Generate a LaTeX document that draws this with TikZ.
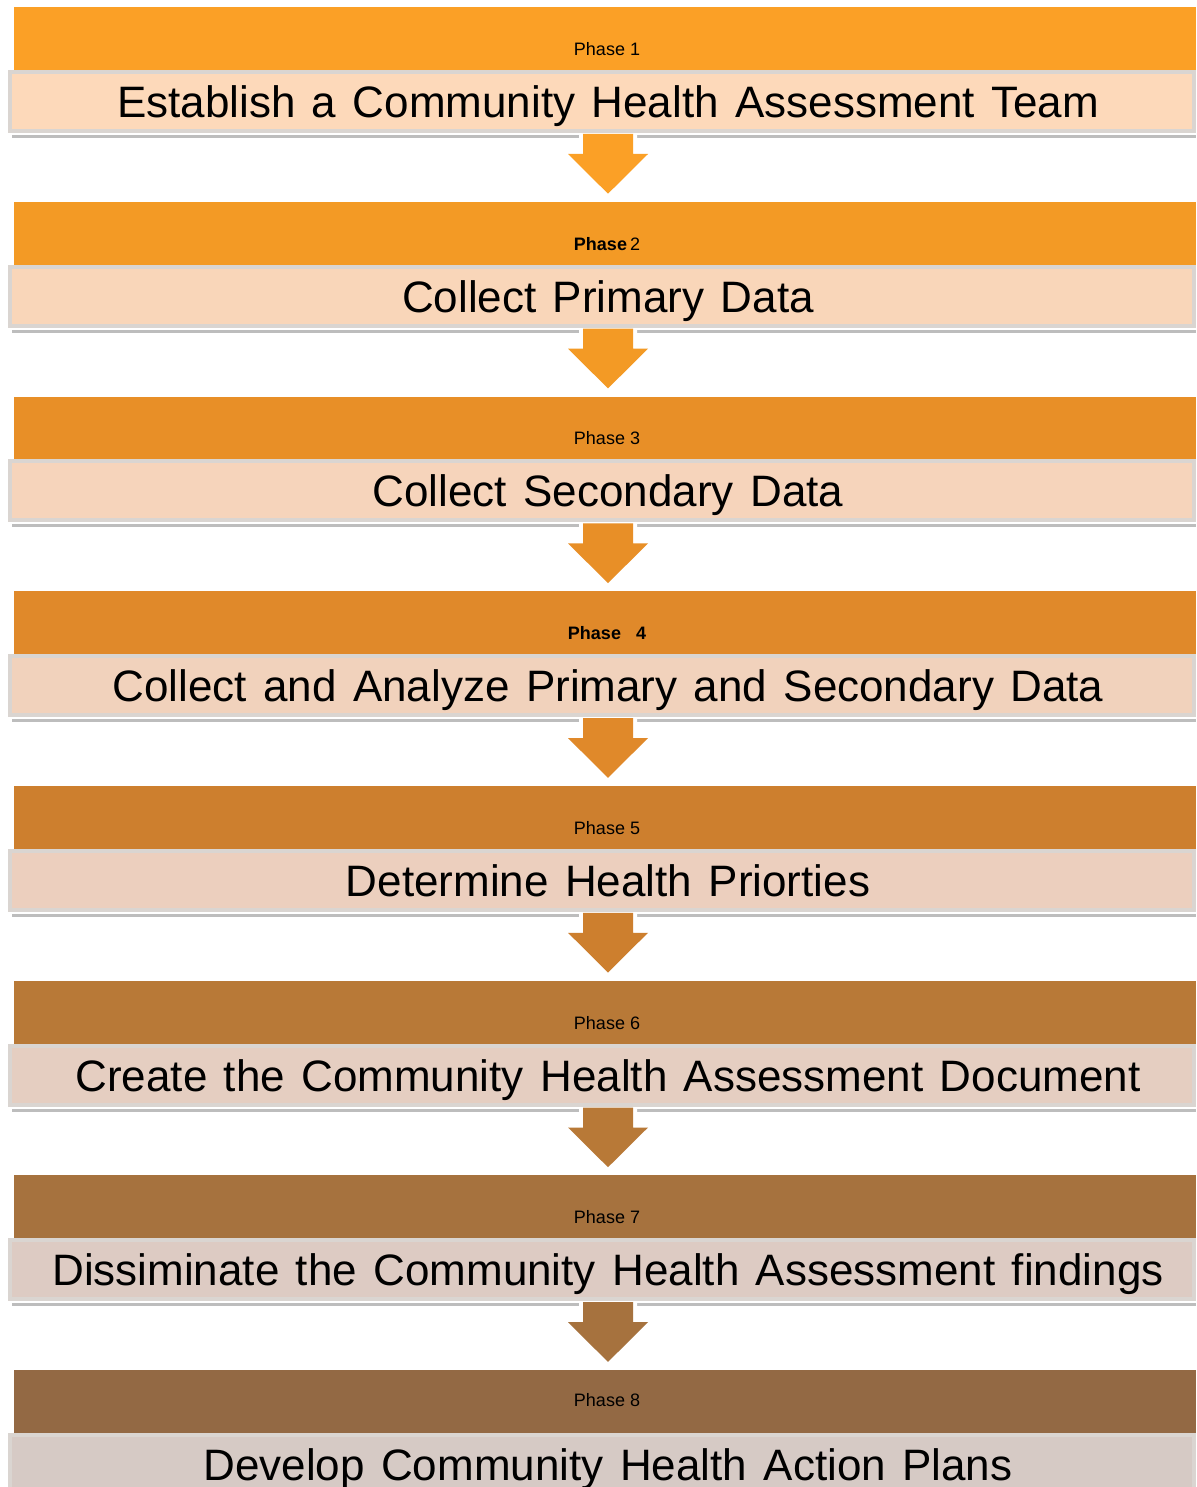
\documentclass[tikz,border=0pt]{standalone}
\usepackage{fontspec}
\setmainfont{Liberation Sans}
\usetikzlibrary{calc}
\definecolor{h1}{HTML}{FBA026}
\definecolor{h2}{HTML}{F39A25}
\definecolor{h3}{HTML}{E88F27}
\definecolor{h4}{HTML}{E0892A}
\definecolor{h5}{HTML}{CD7F2E}
\definecolor{h6}{HTML}{B87937}
\definecolor{h7}{HTML}{A6723E}
\definecolor{h8}{HTML}{936944}
\definecolor{l1}{HTML}{FDD9BA}
\definecolor{l2}{HTML}{F9D6B9}
\definecolor{l3}{HTML}{F6D4BB}
\definecolor{l4}{HTML}{F1D2BC}
\definecolor{l5}{HTML}{ECCFBE}
\definecolor{l6}{HTML}{E5CEC1}
\definecolor{l7}{HTML}{DDCBC3}
\definecolor{l8}{HTML}{D6CAC5}
\definecolor{boxborder}{HTML}{DAD5D1}
\definecolor{shadowgray}{HTML}{BDBDBD}
\newcommand\bigtxtfont{\fontsize{44}{50}\selectfont\spaceskip=16.4pt\relax}
\tikzset{
  hdrbox/.style={rectangle, inner sep=0pt, minimum width=1182pt, minimum height=63pt, anchor=north west},
  mainbox/.style={rectangle, inner sep=0pt, minimum width=1184pt, minimum height=59pt, line width=4pt, draw=boxborder,
     font=\bigtxtfont, text height=32pt, text depth=0pt},
  phlabel/.style={inner sep=0pt, font=\fontsize{18}{20}\selectfont, text height=13pt, text depth=0pt},
  shadowbar/.style={fill=shadowgray, draw=none},
}
\begin{document}
\begin{tikzpicture}[x=1pt,y=-1pt]
\useasboundingbox (0,0) rectangle (1196,1487);
\clip (0,0) rectangle (1196,1487);
\fill[white] (0,0) rectangle (1196,1487);
\foreach \i/\ph/\txt/\dy in {
  1/{Phase 1}/{Establish a Community Health Assessment Team}/42,
  2/{\textbf{Phase}\,2}/{Collect Primary Data}/42,
  3/{Phase 3}/{Collect Secondary Data}/42,
  4/{\textbf{Phase\ \ \ 4}}/{Collect and Analyze Primary and Secondary Data}/42,
  5/{Phase 5}/{Determine Health Priorties}/42,
  6/{Phase 6}/{Create the Community Health Assessment Document}/42,
  7/{Phase 7}/{Dissiminate the Community Health Assessment findings}/42,
  8/{Phase 8}/{Develop Community Health Action Plans}/30}{
  \pgfmathsetmacro{\T}{7+(\i-1)*194.7}
  \pgfmathsetmacro{\LY}{\T+\dy}
  \node[hdrbox, fill=h\i] (h\i) at (14,\T) {};
  \node[phlabel] (p\i) at (607,\LY) {\ph};
  \fill[shadowbar] (12,\T+128) rectangle (1196,\T+131);
  \node[mainbox, fill=l\i] (b\i) at (602,\T+94.5) {\hspace*{12pt}\txt};
}
\foreach \i [count=\j from 2] in {1,...,7}{
  % arrow from box b\i to header h\j
  \coordinate (top\i) at ($(b\i.south)+(6,1)$);
  \coordinate (tip\i) at ($(h\j.north west)+(594,-8)$);
  \fill[black!12] ($(tip\i)+(-40,-36)$) -- ($(tip\i)+(0,4)$) -- ($(tip\i)+(40,-36)$) -- cycle;
  \draw[white, line width=8pt, line join=miter]
     ($(top\i)+(-25,0)$) -- ($(top\i)+(-25,20)$) -- ($(top\i)+(-40,20)$)
     -- (tip\i) -- ($(top\i)+(40,20)$) -- ($(top\i)+(25,20)$) -- ($(top\i)+(25,0)$);
  \fill[h\i] ($(top\i)+(-25,0)$) -- ($(top\i)+(-25,20)$) -- ($(top\i)+(-40,20)$)
     -- (tip\i) -- ($(top\i)+(40,20)$) -- ($(top\i)+(25,20)$) -- ($(top\i)+(25,0)$) -- cycle;
}
\end{tikzpicture}
\end{document}
